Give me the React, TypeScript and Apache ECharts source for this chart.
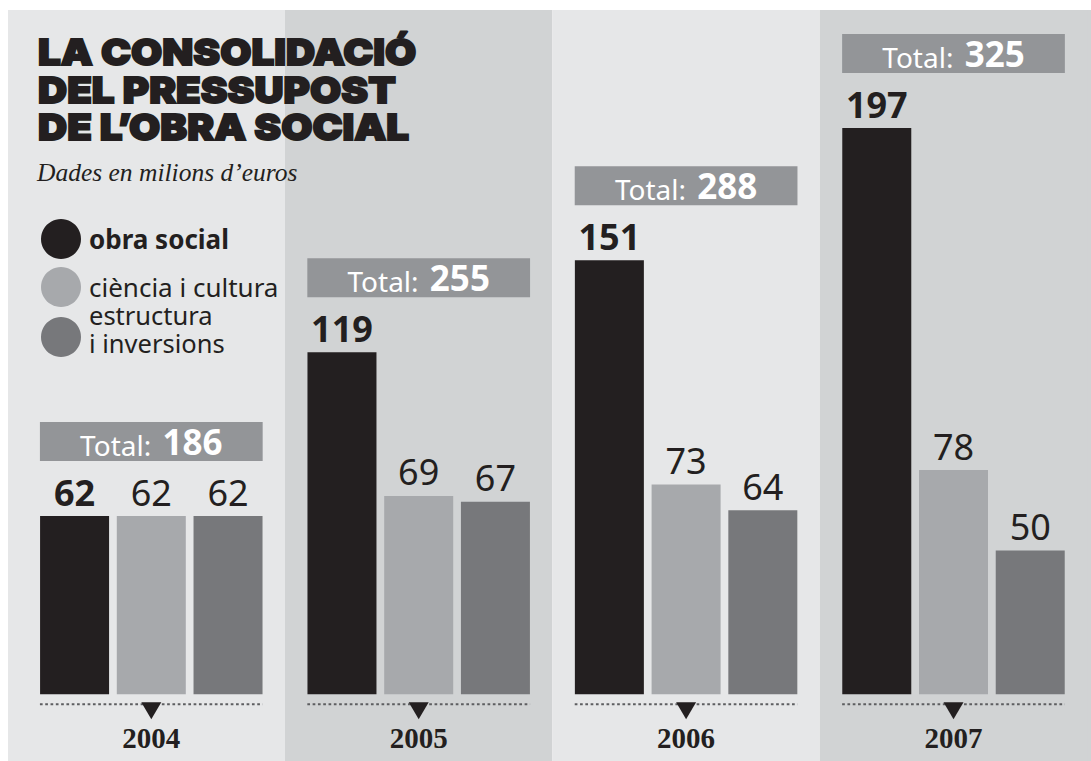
import React, { useEffect, useRef } from 'react';
import * as echarts from 'echarts';

const years = ['2004', '2005', '2006', '2007'];
const obraSocial = [62, 119, 151, 197];
const cienciaCultura = [62, 69, 73, 78];
const estructura = [62, 67, 64, 50];
const totals = [186, 255, 288, 325];
const seriesNames = ['obra social', 'ciència i cultura', 'estructura i inversions'];
const titleLines = ['LA CONSOLIDACIÓ', 'DEL PRESSUPOST', 'DE L’OBRA SOCIAL'];
const subtitle = 'Dades en milions d’euros';
const totalLabel = 'Total: ';

const C_BLACK = '#231f20';
const C_LIGHT = '#a7a9ac';
const C_MID = '#77787b';
const BG_LIGHT = '#e6e7e8';
const BG_DARK = '#d1d3d4';
const C_BOX = '#939598';
const SANS = '"Noto Sans", "Open Sans", sans-serif';
const SERIF = '"Liberation Serif", "DejaVu Serif", serif';

export default function App() {
  const ref = useRef<HTMLDivElement>(null);
  useEffect(() => {
    if (!ref.current) return;
    const chart = echarts.init(ref.current, undefined, { renderer: 'svg' });

    const legendText = {
      rich: {
        b: { fontFamily: SANS, fontWeight: 'bold', fontSize: 26, color: C_BLACK, lineHeight: 26, padding: [0, 0, 0, 3] },
        n: { fontFamily: SANS, fontSize: 26, color: C_BLACK, lineHeight: 26, padding: [0, 0, 0, 3] },
        m: { fontFamily: SANS, fontSize: 25.5, color: C_BLACK, lineHeight: 28, padding: [0, 0, 0, 3] },
        s: { fontSize: 10, lineHeight: 16 },
      },
    };
    const legendFormatter = (name: string) => {
      if (name === seriesNames[0]) return `{b|${name}}`;
      if (name === seriesNames[2]) {
        const parts = name.split(' i ');
        return `{m|${parts[0]}}\n{m|i ${parts[1]}}\n{s| }`;
      }
      return `{n|${name}}`;
    };
    const legendBase = {
      orient: 'vertical',
      icon: 'circle',
      itemWidth: 40,
      itemHeight: 40,
      padding: 0,
      selectedMode: false,
      left: 41,
      formatter: legendFormatter,
      textStyle: legendText,
    };

    const barLabel = (bold: boolean) => ({
      show: true,
      position: 'top',
      distance: 6,
      fontFamily: SANS,
      fontSize: 36,
      fontWeight: bold ? 'bold' : 'normal',
      color: C_BLACK,
    });

    const maxPerYear = years.map((_, i) => Math.max(obraSocial[i], cienciaCultura[i], estructura[i]));

    chart.setOption({
      animation: false,
      backgroundColor: '#ffffff',
      grid: { left: 17.6, right: 3.8, top: 10, bottom: 0, containLabel: false, outerBoundsMode: 'none' },
      xAxis: {
        type: 'category',
        data: years,
        axisLine: { show: false, onZero: false },
        axisTick: { show: false },
        axisLabel: {
          margin: -23,
          verticalAlign: 'middle',
          fontFamily: SERIF,
          fontWeight: 'bold',
          fontSize: 29,
          color: C_BLACK,
        },
        splitArea: { show: true, interval: 0, areaStyle: { color: [BG_LIGHT, BG_DARK] } },
        splitLine: { show: false },
      },
      yAxis: {
        type: 'value',
        min: -23.24,
        max: 238.06,
        show: false,
        splitLine: { show: false },
      },
      legend: [
        { ...legendBase, data: [seriesNames[0]], top: 219 },
        { ...legendBase, data: [seriesNames[1]], top: 267 },
        { ...legendBase, data: [seriesNames[2]], top: 302 },
      ],
      graphic: [
        { type: 'rect', z: -1, shape: { x: 8, y: 10, width: 10, height: 751 }, style: { fill: BG_LIGHT }, silent: true },
        { type: 'rect', z: -1, shape: { x: 1087, y: 10, width: 4, height: 751 }, style: { fill: BG_DARK }, silent: true },
        ...titleLines.map((t, i) => ({
          type: 'text',
          z: 100,
          x: 38,
          y: [52, 89.5, 127][i],
          scaleX: 1.12,
          style: {
            text: t,
            fill: C_BLACK,
            stroke: C_BLACK,
            lineWidth: 1.8,
            font: '900 36px Inter, "Noto Sans", sans-serif',
            textAlign: 'left',
            textVerticalAlign: 'middle',
          },
        })),
        {
          type: 'text',
          z: 100,
          x: 37,
          y: 172,
          style: {
            text: subtitle,
            fill: C_BLACK,
            font: 'italic 25.5px "Liberation Serif", serif',
            textAlign: 'left',
            textVerticalAlign: 'middle',
          },
        },
      ],
      series: [
        {
          name: seriesNames[0],
          type: 'bar',
          data: obraSocial,
          barWidth: 69,
          barGap: '11.2%',
          itemStyle: { color: C_BLACK },
          label: barLabel(true),
        },
        {
          name: seriesNames[1],
          type: 'bar',
          data: cienciaCultura,
          barWidth: 69,
          barGap: '11.2%',
          itemStyle: { color: C_LIGHT },
          label: barLabel(false),
        },
        {
          name: seriesNames[2],
          type: 'bar',
          data: estructura,
          barWidth: 69,
          barGap: '11.2%',
          itemStyle: { color: C_MID },
          label: barLabel(false),
        },
        {
          name: 'axisMarks',
          type: 'custom',
          silent: true,
          data: years.map((_, i) => [i, 0]),
          encode: { x: 0, y: 1 },
          renderItem: (params: any, api: any) => {
            const p = api.coord([api.value(0), 0]);
            const bw = api.size([1, 0])[0];
            const half = bw * 0.4165;
            return {
              type: 'group',
              children: [
                {
                  type: 'line',
                  shape: { x1: p[0] - half, y1: p[1] + 10, x2: p[0] + half, y2: p[1] + 10 },
                  style: { stroke: '#5d5e60', lineWidth: 2, lineDash: [2.7, 2.6] },
                },
                {
                  type: 'polygon',
                  shape: { points: [[p[0] - 10, p[1] + 8], [p[0] + 10, p[1] + 8], [p[0], p[1] + 25]] },
                  style: { fill: C_BLACK },
                },
              ],
            };
          },
        },
        {
          name: 'totals',
          type: 'custom',
          silent: true,
          data: totals.map((t, i) => [i, t, maxPerYear[i]]),
          encode: { x: 0, y: 2 },
          renderItem: (params: any, api: any) => {
            const p = api.coord([api.value(0), api.value(2)]);
            const bw = api.size([1, 0])[0];
            const half = bw * 0.4165;
            const h = 39;
            const bottom = p[1] - 55;
            return {
              type: 'group',
              children: [
                {
                  type: 'rect',
                  shape: { x: p[0] - half, y: bottom - h, width: half * 2, height: h },
                  style: { fill: C_BOX },
                },
                {
                  type: 'text',
                  x: p[0],
                  y: bottom - h / 2 - 1,
                  style: {
                    text: `{a|${totalLabel}}{b|${api.value(1)}}`,
                    align: 'center',
                    verticalAlign: 'middle',
                    fill: '#ffffff',
                    rich: {
                      a: { fontFamily: SANS, fontSize: 28, fill: '#ffffff', verticalAlign: 'bottom', lineHeight: 36 },
                      b: { fontFamily: SANS, fontSize: 35, fontWeight: 'bold', fill: '#ffffff', verticalAlign: 'bottom', lineHeight: 36, padding: [0, 0, 0, 4] },
                    },
                  },
                },
              ],
            };
          },
        },
      ],
    });
    return () => chart.dispose();
  }, []);
  return (
    <div
      ref={ref}
      style={{ position: 'fixed', left: 0, top: 0, width: 1091, height: 761, background: '#fff' }}
    />
  );
}
